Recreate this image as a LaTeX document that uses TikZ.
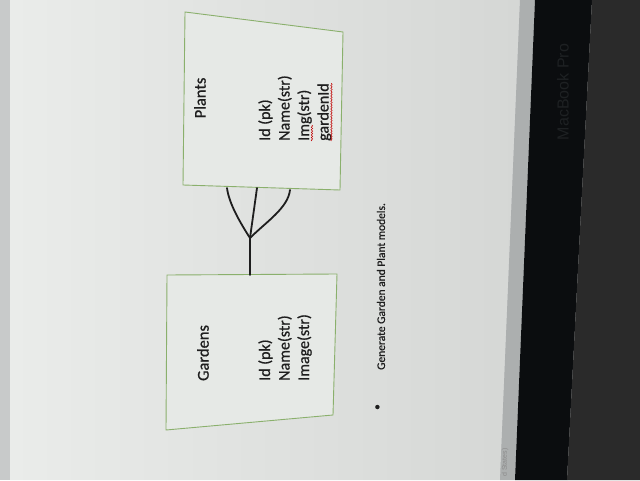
\documentclass[tikz,border=0pt]{standalone}
\usepackage{fontspec}
\setmainfont{Carlito}
\newfontfamily\shot{Carlito}[FakeBold=0.7]
\setsansfont{Liberation Sans}
\usetikzlibrary{decorations.pathmorphing}
\definecolor{ink}{RGB}{30,30,30}
\definecolor{boxgreen}{RGB}{138,176,108}
\definecolor{boxfill}{RGB}{230,233,230}
\definecolor{screenA}{RGB}{234,236,234}
\definecolor{screenB}{RGB}{213,215,213}
\definecolor{edgegrey}{RGB}{200,202,202}
\definecolor{rimgrey}{RGB}{172,175,175}
\definecolor{bezel}{RGB}{11,13,15}
\definecolor{brandgrey}{RGB}{30,33,35}
\definecolor{desk}{RGB}{42,42,42}
\tikzset{box/.style={draw=boxgreen,line width=0.9pt,fill=boxfill}}
\tikzset{title/.style={rotate=90,inner sep=0pt,text=ink,font=\shot\fontsize{16.5}{19.5}\selectfont}}
\tikzset{attr/.style={rotate=90,anchor=base west,inner sep=0pt,text=ink,font=\shot\fontsize{16}{19.5}\selectfont}}
\tikzset{link/.style={draw=ink,line width=1.8pt,line cap=round}}
\tikzset{squiggle/.style={draw=red!75!black,line width=0.5pt,decorate,decoration={snake,amplitude=0.7pt,segment length=2.6pt}}}

\begin{document}
\begin{tikzpicture}[x=1pt,y=1pt]
  \useasboundingbox (0,0) rectangle (640,480);
  % screen, rim, bezel and desk
  \fill[edgegrey] (0,0) rectangle (640,480);
  \shade[left color=screenA,right color=screenB] (10,0) -- (10,480) -- (520,480) -- (500,0) -- cycle;
  \fill[rimgrey] (500,0) -- (520,480) -- (535,480) -- (515,0) -- cycle;
  \fill[bezel] (515,0) -- (535,480) -- (592,480) -- (567,0) -- cycle;
  \fill[desk] (567,0) -- (592,480) -- (640,480) -- (640,0) -- cycle;
  \node[rotate=90,text=brandgrey,font=\sffamily\fontsize{16}{16}\selectfont] (brand) at (563,388) {MacBook Pro};
  \node[rotate=90,anchor=east,text=black!45,font=\sffamily\fontsize{7}{7}\selectfont] (status) at (505,35) {d States)};

  % the two tables
  \draw[box] (185,468) -- (343,448) -- (340,290) -- (183,295) -- cycle;
  \draw[box] (167,205) -- (337,206) -- (333,65) -- (166,50) -- cycle;
  \node[title] (plants) at (200,382) {Plants};
  \node[title] (gardens) at (203,127) {Gardens};
        \foreach \t [count=\i] in {{Id (pk)},{Name(str)},{Img(str)},{gardenId}}
          \node[attr] (p\i) at (270+19.5*\i-19.5,339) {\t};
        \foreach \t [count=\i] in {{Id (pk)},{Name(str)},{Image(str)}}
          \node[attr] (g\i) at (270+19.5*\i-19.5,99) {\t};
  \draw[squiggle] (p3.south west) -- ++(0,16);
  \draw[squiggle] (p4.south west) -- (p4.south east);

  % one garden to many plants
  \coordinate (stem) at (250,205);
  \coordinate (fork) at (250,242);
  \coordinate (prongL) at (227,292);
  \coordinate (prongM) at (257,292);
  \coordinate (prongR) at (290,290);
  \draw[link] (stem) -- (fork);
  \draw[link] (fork) .. controls (241,256) and (229,276) .. (prongL);
  \draw[link] (fork) -- (prongM);
  \draw[link] (fork) .. controls (266,258) and (288,272) .. (prongR);

  % note below the diagram
  \node[rotate=90,inner sep=0pt,text=ink,font=\shot\fontsize{11.5}{13}\selectfont] (dot) at (378,73) {•};
  \node[rotate=90,anchor=west,inner sep=0pt,text=ink,font=\shot\fontsize{11.5}{13}\selectfont] (note) at (381,110) {Generate Garden and Plant models.};
\end{tikzpicture}
\end{document}
